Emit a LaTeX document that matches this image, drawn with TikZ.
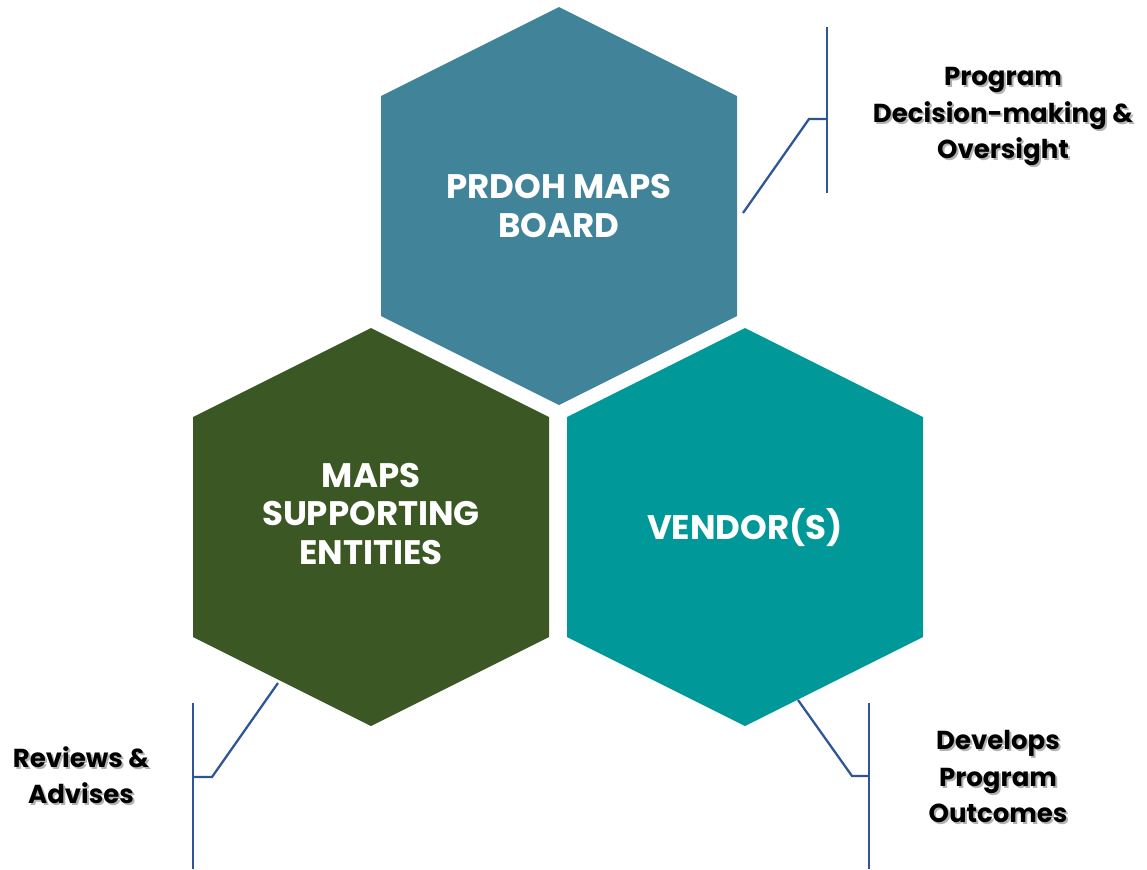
\documentclass[tikz,border=0pt]{standalone}
\usepackage{fontspec}
\setmainfont{Poppins}
\definecolor{hexblue}{RGB}{65,132,154}
\definecolor{hexgreen}{RGB}{58,87,36}
\definecolor{hexteal}{RGB}{0,152,152}
\definecolor{linkblue}{RGB}{47,85,151}
\newcommand{\mylines}[1]{\begin{tabular}{@{}c@{}}#1\end{tabular}}
\newcommand{\shadowed}[1]{\makebox[0pt][l]{\hspace{1.5pt}\raisebox{-1.5pt}{\color{black!30}\mylines{#1}}}\mylines{#1}}
\begin{document}
\begin{tikzpicture}[x=0.75pt,y=-0.75pt,
  hextext/.style={text=white,font=\bfseries\fontsize{25.5}{29}\selectfont,align=center},
  lbltext/.style={text=black,font=\bfseries\fontsize{19.5}{27.4}\selectfont},
  conn/.style={draw=linkblue,line width=1.7pt,line join=miter}]
\useasboundingbox (0,0) rectangle (1147,869);
% hexagons
\fill[hexblue] (559,7) -- (737,96) -- (737,316) -- (559,405) -- (381,316) -- (381,96) -- cycle;
\fill[hexgreen] (371,328) -- (549,417) -- (549,637) -- (371,726) -- (193,637) -- (193,417) -- cycle;
\fill[hexteal] (745,328) -- (923,417) -- (923,637) -- (745,726) -- (567,637) -- (567,417) -- cycle;
% hexagon texts
\node[hextext] (board) at (559,206) {PRDOH MAPS\\BOARD};
\node[hextext] (support) at (371,514) {MAPS\\SUPPORTING\\ENTITIES};
\node[hextext] (vendor) at (745,528) {VENDOR(S)};
% labels
\node[lbltext] (lblboard) at (1003,116) {\shadowed{Program\\Decision-making \&\\Oversight}};
\node[lbltext] (lblsupport) at (81,779) {\shadowed{Reviews \&\\Advises}};
\node[lbltext] (lblvendor) at (998,780) {\shadowed{Develops\\Program\\Outcomes}};
% connector coordinates
\coordinate (b0) at (743,213);
\coordinate (b1) at (809,119);
\coordinate (b2) at (827,119);
\coordinate (bt) at (827,27);
\coordinate (bb) at (827,193);
\coordinate (s0) at (278,683);
\coordinate (s1) at (212,777);
\coordinate (s2) at (193,777);
\coordinate (st) at (193,703);
\coordinate (sb) at (193,869);
\coordinate (v0) at (798,700);
\coordinate (v1) at (852,776);
\coordinate (v2) at (869,776);
\coordinate (vt) at (869,703);
\coordinate (vb) at (869,869);
% connectors
\draw[conn] (b0) -- (b1) -- (b2);
\draw[conn] (bt) -- (bb);
\draw[conn] (s0) -- (s1) -- (s2);
\draw[conn] (st) -- (sb);
\draw[conn] (v0) -- (v1) -- (v2);
\draw[conn] (vt) -- (vb);
\end{tikzpicture}
\end{document}
